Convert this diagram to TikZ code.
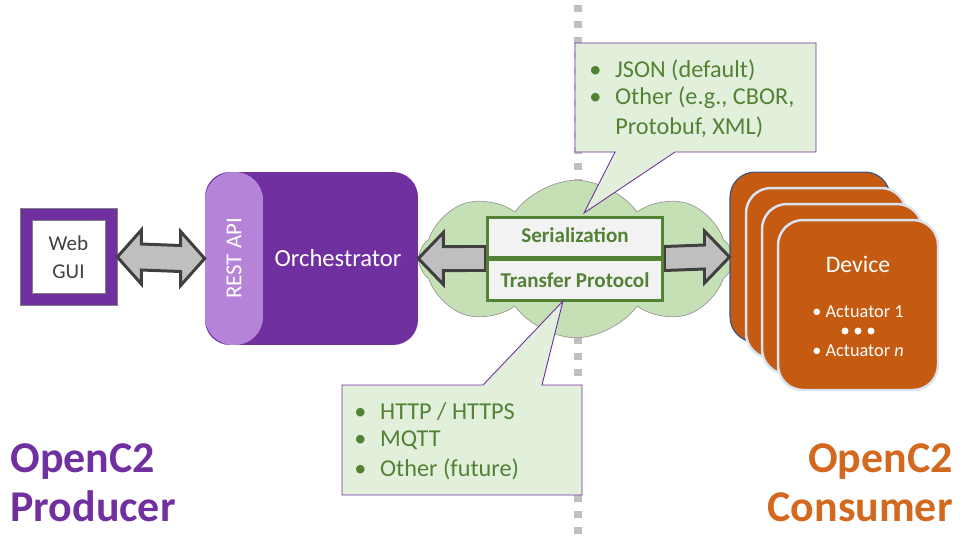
\documentclass[tikz,border=0pt]{standalone}
\usepackage{fontspec}
\setmainfont{Carlito}
\usetikzlibrary{positioning,shapes.symbols,calc}
\definecolor{ocPurple}{HTML}{7030A0}
\definecolor{ocLilac}{HTML}{B584D8}
\definecolor{ocOrange}{HTML}{C55A11}
\definecolor{ocTitleOrange}{HTML}{D2691E}
\definecolor{ocGreen}{HTML}{548235}
\definecolor{ocCloud}{HTML}{C5E0B4}
\definecolor{ocNote}{HTML}{E2EFDA}
\definecolor{ocPaper}{HTML}{F2F2F2}
\definecolor{ocArrow}{HTML}{BFBFBF}
\definecolor{ocEdge}{HTML}{404040}
\definecolor{ocFrame}{HTML}{DAE3F3}
\definecolor{ocNavy}{HTML}{2F528F}
\tikzset{
    % boxes on the producer side
    guiouter/.style={rectangle,fill=ocPurple,draw=gray,thin,minimum size=1.94cm,inner sep=0pt},
    guiinner/.style={rectangle,fill=white,draw=gray,thin,minimum size=1.46cm,inner sep=0pt,align=center,font=\fontsize{12}{16}\selectfont,text=ocEdge},
    orchbox/.style={rectangle,rounded corners=0.5cm,fill=ocPurple,minimum width=4.26cm,minimum height=3.46cm,inner sep=0pt},
    apibox/.style={rectangle,rounded corners=0.56cm,fill=ocLilac,minimum width=1.16cm,minimum height=3.46cm,inner sep=0pt},
    whitetext/.style={text=white,inner sep=0pt},
    % network part
    netcloud/.style={cloud,cloud puffs=8,cloud puff arc=110,aspect=2,fill=ocCloud,draw=gray!80,minimum width=6.3cm,minimum height=3.15cm,inner sep=0pt},
    layerbox/.style={rectangle,fill=ocPaper,draw=ocGreen,line width=1.7pt,minimum width=3.52cm,minimum height=0.8cm,inner sep=0pt,text=ocGreen,font=\fontsize{12}{14}\selectfont\bfseries},
    blockarrow/.style={fill=ocArrow,draw=ocEdge,line width=1.7pt,line join=miter},
    callout/.style={fill=ocNote,draw=ocPurple,line width=0.5pt},
    calltext/.style={anchor=west,inner sep=0pt,text=ocGreen,font=\fontsize{13.8}{15}\selectfont},
    % consumer side
    devbox/.style={rectangle,rounded corners=0.5cm,fill=ocOrange,draw=ocFrame,line width=1.4pt,minimum width=3.2cm,minimum height=3.4cm,inner sep=0pt},
    title/.style={inner sep=0pt,font=\fontsize{25}{28}\selectfont\bfseries}
}
\newcommand{\calbullet}{\makebox[14.7pt][l]{•}}

\begin{document}
\begin{tikzpicture}[x=0.02cm,y=-0.02cm]
    \useasboundingbox (0,0) rectangle (960,539);

    % dotted border producer / consumer
    \draw[ocArrow,line width=4pt,dash pattern=on 4pt off 5pt] (578,5) -- (578,539);

    % the network
    \node[netcloud] (net) at (576,259) {};

    % producer
    \node[guiouter] (gui) at (68.5,257) {};
    \node[guiinner] (guitext) at (gui) {Web\\GUI};
    \node[orchbox] (orch) at (311.5,258.5) {};
    \node[apibox] (api) at (234,258.5) {};
    \node[whitetext,rotate=90,font=\fontsize{13}{15}\selectfont] (apitext) at (api) {REST API};
    \node[whitetext,font=\fontsize{14}{16}\selectfont] (orchtext) at (338,258) {Orchestrator};

    % consumer devices
    \node[devbox,draw=ocNavy,line width=0.6pt] (dev0) at (810,257) {};
    \node[devbox] (dev1) at (826,273) {};
    \node[devbox] (dev2) at (842,289) {};
    \node[devbox] (dev3) at (858,305) {};
    \node[whitetext,font=\fontsize{13.5}{15}\selectfont] (devname) at (858,264) {Device};
    \node[whitetext,font=\fontsize{10.4}{12}\selectfont] (act1) at (858,312) {• Actuator 1};
    \node[whitetext,font=\fontsize{10.4}{12}\selectfont] (actn) at (858,351) {• Actuator \textit{n}};
    \fill[white] (845,331) circle[radius=0.07cm] (858,331) circle[radius=0.07cm] (871,331) circle[radius=0.07cm];

    % layers
    \node[layerbox] (serial) at (575,237) {};
    \node[layerbox,minimum height=0.82cm,below=0pt of serial] (trans) {};

    % arrows
    \draw[blockarrow] (gui.east) -- ($(gui.east)+(24,-27)$) -- ($(gui.east)+(24,-13)$)
        -- ($(api.west)+(-24,-13)$) -- ($(api.west)+(-24,-27)$) -- (api.west)
        -- ($(api.west)+(-24,27)$) -- ($(api.west)+(-24,13)$)
        -- ($(gui.east)+(24,13)$) -- ($(gui.east)+(24,27)$) -- cycle;
    \draw[blockarrow] (orch.east) -- ($(orch.east)+(25,-26)$) -- ($(orch.east)+(25,-12)$)
        -- ($(serial.south west)+(0,-12)$) -- ($(serial.south west)+(0,12)$)
        -- ($(orch.east)+(25,12)$) -- ($(orch.east)+(25,26)$) -- cycle;
    \draw[blockarrow] (dev0.west) -- ($(dev0.west)+(-25,-26)$) -- ($(dev0.west)+(-25,-12)$)
        -- ($(serial.south east)+(0,-12)$) -- ($(serial.south east)+(0,12)$)
        -- ($(dev0.west)+(-25,12)$) -- ($(dev0.west)+(-25,26)$) -- cycle;
    \node[layerbox] at (serial) {\raisebox{2pt}{Serialization}};
    \node[layerbox,minimum height=0.82cm] at (trans) {\raisebox{-3pt}{Transfer Protocol}};

    % callouts
    \draw[callout] (575,43) -- (816,43) -- (816,152) -- (675,152) -- (584,213)
        -- (615,152) -- (575,152) -- cycle;
    \node[calltext] (ser1) at (589,70) {\calbullet JSON (default)};
    \node[calltext] (ser2) at (589,98) {\calbullet Other (e.g., CBOR,};
    \node[calltext] (ser3) at (615,127) {Protobuf, XML)};
    \draw[callout] (342,385) -- (483,385) -- (563,301) -- (542,385) -- (582,385)
        -- (582,495) -- (342,495) -- cycle;
    \node[calltext] (tp1) at (354,412) {\calbullet HTTP / HTTPS};
    \node[calltext] (tp2) at (354,440) {\calbullet MQTT};
    \node[calltext] (tp3) at (354,469) {\calbullet Other (future)};

    % titles
    \node[title,anchor=west,align=left,text=ocPurple] (prod) at (10,483) {OpenC2\\Producer};
    \node[title,anchor=east,align=right,text=ocTitleOrange] (cons) at (953,483) {OpenC2\\Consumer};
\end{tikzpicture}
\end{document}
